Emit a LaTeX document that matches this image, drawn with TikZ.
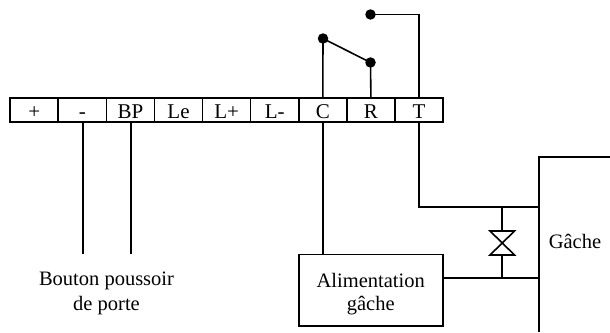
\documentclass[tikz,border=0pt]{standalone}
\usepackage{fontspec}
\setmainfont{Liberation Serif}
\tikzset{
  cell/.style={draw,line width=1.6pt,minimum width=48.1pt,minimum height=24pt,inner sep=0pt,anchor=center},
  celltext/.style={font=\fontsize{21}{24}\selectfont,anchor=base,inner sep=0pt},
  wire/.style={line width=1.6pt},
  pin/.style={circle,fill=black,inner sep=0pt,minimum size=10.5pt},
  lab/.style={font=\fontsize{20.5}{25}\selectfont,align=center,inner sep=0pt},
  powerbox/.style={draw,line width=1.6pt,minimum width=144pt,minimum height=71.5pt,inner sep=0pt}
}
\begin{document}
\begin{tikzpicture}[x=1pt,y=-1pt]
\useasboundingbox (0,0) rectangle (610,332);
\foreach \n/\t [count=\i from 0] in {plus/+,minus/-,bp/BP,le/Le,lp/L+,lm/L-,c/C,r/R,t/T}{
  \node[cell] (\n) at ({34.2+48.1*\i},110) {};
  \node[celltext] (\n txt) at ({34.2+48.1*\i},118) {\t};
}
% contacts
\node[pin] (pc) at (323,38.5) {};
\node[pin] (pr) at (370.5,62.5) {};
\node[pin] (pt) at (370.5,14.5) {};
\draw[wire] (c.north) -- (pc.center);
\draw[wire] (r.north) -- (pr.center);
\draw[wire] (pc.center) -- (pr.center);
\draw[wire] (pt.center) -| (t.north);
% button
\coordinate (bm) at (82.8,254);
\coordinate (bb) at (130.8,254);
\draw[wire] (bm |- minus.south) -- (bm);
\draw[wire] (bb |- bp.south) -- (bb);
\node[lab,anchor=base] (btn1) at (106.5,285) {Bouton poussoir};
\node[lab,anchor=base] (btn2) at (106.5,310) {de porte};
% power supply
\node[powerbox] (alim) at (370.7,290.2) {};
\node[lab,anchor=base] (alim1) at (370.7,287) {Alimentation};
\node[lab,anchor=base] (alim2) at (370.7,310) {gâche};
\draw[wire] (c.south) -- (c.south |- alim.north);
% strike
\coordinate (gtl) at (539,157);
\coordinate (gtr) at (610,157);
\coordinate (gbl) at (539,332);
\coordinate (gt) at (539,207);
\coordinate (gb) at (539,278);
\coordinate (jt) at (502,207);
\coordinate (jb) at (502,278);
\draw[wire] (gtr) -- (gtl) -- (gbl);
\node[lab,anchor=base] (gache) at (575,248) {Gâche};
\draw[wire] (t.south) |- (gt);
\draw[wire] (alim.east |- gb) -- (gb);
% valve symbol
\coordinate (vt) at (502,231);
\coordinate (vb) at (502,255);
\draw[wire] (jt) -- (vt);
\draw[wire] (vb) -- (jb);
\draw[wire,line join=miter] (490,231) -- (514.5,231) -- (490,255) -- (514.5,255) -- cycle;
\end{tikzpicture}
\end{document}
